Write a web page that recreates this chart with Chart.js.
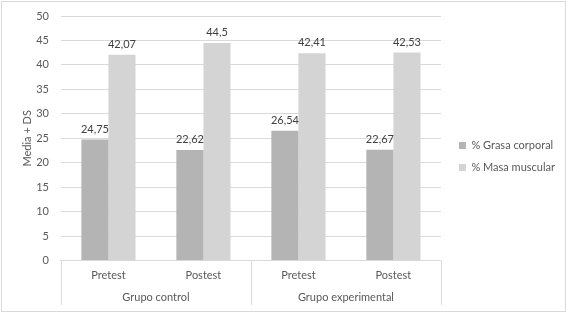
<!DOCTYPE html>
<html>
<head>
<meta charset="utf-8">
<script src="https://cdn.jsdelivr.net/npm/chart.js@4/dist/chart.umd.min.js"></script>
<style>
  html, body { margin: 0; padding: 0; background: #fff; }
  #wrap { width: 563px; height: 309px; margin: 1px; border: 1px solid #d9d9d9; position: relative; }
</style>
</head>
<body>
<div id="wrap"><canvas id="grafico"></canvas></div>
<script>
// datos del grafico
var etapas = ['Pretest', 'Postest', 'Pretest', 'Postest'];
var grupos = ['Grupo control', 'Grupo experimental'];
var grasaCorporal = [24.75, 22.62, 26.54, 22.67];
var masaMuscular = [42.07, 44.5, 42.41, 42.53];
var ticksY = [0, 5, 10, 15, 20, 25, 30, 35, 40, 45, 50];

var fuente = 'Lato, "Liberation Sans", sans-serif';
var gris = '#595959';

// etiquetas de valor encima de cada barra
var etiquetas = {
    id: 'etiquetas',
    afterDatasetsDraw: function (chart) {
        var ctx = chart.ctx;
        ctx.save();
        ctx.font = '11px ' + fuente;
        ctx.fillStyle = '#404040';
        ctx.textAlign = 'center';
        ctx.textBaseline = 'bottom';
        chart.data.datasets.forEach(function (ds, i) {
            chart.getDatasetMeta(i).data.forEach(function (bar, j) {
                ctx.fillText(String(ds.data[j]).replace('.', ','), bar.x, bar.y - 5);
            });
        });
        ctx.restore();
    }
};

// lineas separadoras del eje de categorias de dos niveles
var separadores = {
    id: 'separadores',
    afterDraw: function (chart) {
        var x = chart.scales.x, x2 = chart.scales.x2, ctx = chart.ctx;
        var medio = (x.getPixelForValue(1) + x.getPixelForValue(2)) / 2;
        ctx.save();
        ctx.strokeStyle = '#d9d9d9';
        ctx.lineWidth = 1;
        [x.left, medio, x.right].forEach(function (px) {
            px = Math.round(px) + 0.5;
            ctx.beginPath();
            ctx.moveTo(px, x.top);
            ctx.lineTo(px, x2.bottom);
            ctx.stroke();
        });
        ctx.restore();
    }
};

var ctx = document.getElementById('grafico').getContext('2d');
var grafico = new Chart(ctx, {
    type: 'bar',
    data: {
        labels: etapas,
        datasets: [{
            label: '% Grasa corporal',
            data: grasaCorporal,
            backgroundColor: '#b4b4b4'
        }, {
            label: '% Masa muscular',
            data: masaMuscular,
            backgroundColor: '#d4d4d4'
        }]
    },
    options: {
        responsive: true,
        maintainAspectRatio: false,
        animation: false,
        categoryPercentage: 0.57,
        barPercentage: 1,
        layout: { padding: { top: 6, right: 0, bottom: 6, left: 15 } },
        plugins: {
            tooltip: { enabled: false },
            legend: {
                position: 'right',
                maxWidth: 140,
                labels: {
                    boxWidth: 7,
                    boxHeight: 7,
                    padding: 11,
                    color: gris,
                    font: { family: fuente, size: 11 }
                }
            }
        },
        scales: {
            x: {
                grid: { display: false, drawTicks: false },
                border: { display: true, color: '#d9d9d9' },
                ticks: { color: gris, padding: 8, font: { family: fuente, size: 11 } }
            },
            x2: {
                type: 'category',
                labels: grupos,
                position: 'bottom',
                grid: { display: false, drawTicks: false },
                border: { display: false },
                ticks: { color: gris, padding: 1, font: { family: fuente, size: 11 } }
            },
            y: {
                min: 0,
                max: 50,
                afterBuildTicks: function (axis) {
                    axis.ticks = ticksY.map(function (v) { return { value: v }; });
                },
                afterFit: function (axis) { axis.paddingTop = 14; },
                grid: { color: '#d9d9d9', drawTicks: false },
                border: { display: false },
                ticks: { color: gris, padding: 12, font: { family: fuente, size: 11 } },
                title: {
                    display: true,
                    text: 'Media + DS',
                    color: gris,
                    padding: { top: 4, bottom: -10 },
                    font: { family: fuente, size: 11 }
                }
            },
            // hueco entre el area del grafico y la leyenda
            hueco: {
                type: 'linear',
                position: 'right',
                grid: { display: false, drawTicks: false },
                border: { display: false },
                ticks: { display: false },
                afterFit: function (axis) { axis.width = 7; }
            }
        }
    },
    plugins: [etiquetas, separadores]
});
</script>
</body>
</html>
